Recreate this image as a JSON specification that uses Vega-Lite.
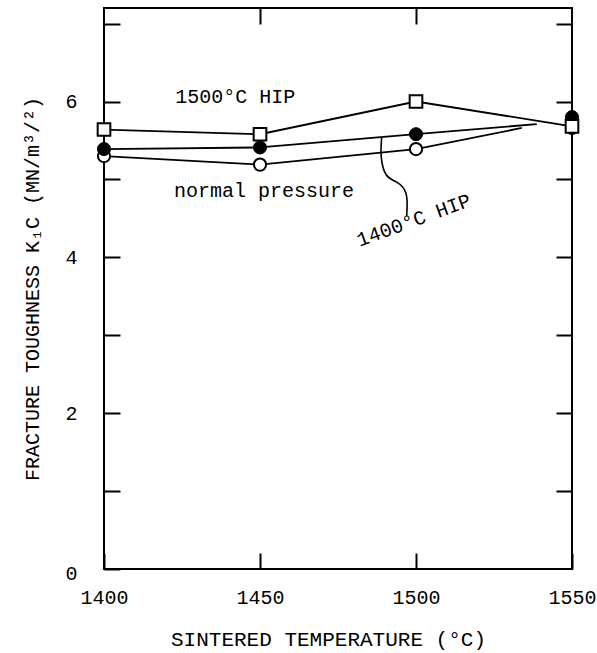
{
  "$schema": "https://vega.github.io/schema/vega-lite/v6.json",
  "width": 468,
  "height": 561,
  "autosize": "none",
  "padding": {"left": 104, "top": 8, "right": 25, "bottom": 84},
  "background": "white",
  "config": {
    "view": {"stroke": "black", "strokeWidth": 2},
    "font": "Liberation Mono",
    "axis": {"domain": false, "grid": false, "tickColor": "black", "tickWidth": 2, "labelColor": "black", "titleColor": "black", "labelFont": "Liberation Mono", "titleFont": "Liberation Mono", "titleFontWeight": "normal", "labelFontWeight": "normal", "labelFlush": false}
  },
  "datasets": {
    "lines": [
      {"series": "1500°C HIP", "temp": 1400, "k": 5.64},
      {"series": "1500°C HIP", "temp": 1450, "k": 5.58},
      {"series": "1500°C HIP", "temp": 1500, "k": 6.0},
      {"series": "1500°C HIP", "temp": 1550, "k": 5.68},
      {"series": "1400°C HIP", "temp": 1400, "k": 5.39},
      {"series": "1400°C HIP", "temp": 1450, "k": 5.41},
      {"series": "1400°C HIP", "temp": 1500, "k": 5.58},
      {"series": "1400°C HIP", "temp": 1538.7, "k": 5.71},
      {"series": "normal pressure", "temp": 1400, "k": 5.30},
      {"series": "normal pressure", "temp": 1450, "k": 5.19},
      {"series": "normal pressure", "temp": 1500, "k": 5.39},
      {"series": "normal pressure", "temp": 1533.9, "k": 5.66}
    ],
    "points": [
      {"series": "normal pressure", "temp": 1400, "k": 5.30},
      {"series": "normal pressure", "temp": 1450, "k": 5.19},
      {"series": "normal pressure", "temp": 1500, "k": 5.39},
      {"series": "normal pressure", "temp": 1550, "k": 5.66},
      {"series": "1400°C HIP", "temp": 1400, "k": 5.39},
      {"series": "1400°C HIP", "temp": 1450, "k": 5.41},
      {"series": "1400°C HIP", "temp": 1500, "k": 5.58},
      {"series": "1400°C HIP", "temp": 1550, "k": 5.80},
      {"series": "1500°C HIP", "temp": 1400, "k": 5.64},
      {"series": "1500°C HIP", "temp": 1450, "k": 5.58},
      {"series": "1500°C HIP", "temp": 1500, "k": 6.0},
      {"series": "1500°C HIP", "temp": 1550, "k": 5.68}
    ],
    "leader": [
      {"i": 1, "temp": 1489.0, "k": 5.54},
      {"i": 2, "temp": 1488.5, "k": 5.30},
      {"i": 3, "temp": 1490.1, "k": 5.02},
      {"i": 4, "temp": 1493.8, "k": 4.98},
      {"i": 5, "temp": 1497.5, "k": 4.85},
      {"i": 6, "temp": 1497.0, "k": 4.53}
    ],
    "notes": [
      {"temp": 1422.8, "k": 5.975, "text": "1500°C HIP"},
      {"temp": 1422.4, "k": 4.77, "text": "normal pressure"}
    ],
    "rotnotes": [
      {"temp": 1500.0, "k": 4.40, "text": "1400°C HIP"}
    ]
  },
  "resolve": {"axis": {"x": "independent", "y": "independent"}},
  "layer": [
    {
      "data": {"name": "lines"},
      "mark": {"type": "line", "color": "black", "strokeWidth": 1.8},
      "encoding": {
        "x": {"field": "temp", "type": "quantitative", "scale": {"domain": [1400, 1550], "nice": false, "zero": false},
              "axis": {"orient": "bottom", "values": [1400, 1450, 1500, 1550], "tickSize": -16, "labelPadding": 34, "labelFontSize": 20, "format": "d",
                       "title": "SINTERED TEMPERATURE (°C)", "titleFontSize": 21, "titlePadding": 21, "titleX": 224}},
        "y": {"field": "k", "type": "quantitative", "scale": {"domain": [0, 7.2], "nice": false},
              "axis": {"orient": "left", "values": [0, 1, 2, 3, 4, 5, 6, 7], "tickSize": -16, "labelPadding": 43, "labelFontSize": 20,
                       "labelExpr": "datum.value % 2 == 0 ? datum.label : ''",
                       "labelOffset": {"condition": {"test": "datum.value == 0", "value": 4}, "value": 0},
                       "title": "FRACTURE TOUGHNESS K₁C (MN/m³/²)", "titleFontSize": 20, "titlePadding": 22}},
        "detail": {"field": "series"}
      }
    },
    {
      "data": {"name": "points"},
      "transform": [{"filter": "datum.series == 'normal pressure'"}],
      "mark": {"type": "point", "shape": "circle", "filled": true, "fill": "white", "stroke": "black", "strokeWidth": 2, "size": 150, "opacity": 1},
      "encoding": {
        "x": {"field": "temp", "type": "quantitative", "axis": null},
        "y": {"field": "k", "type": "quantitative", "axis": null}
      }
    },
    {
      "data": {"name": "points"},
      "transform": [{"filter": "datum.series == '1400°C HIP'"}],
      "mark": {"type": "point", "shape": "circle", "filled": true, "fill": "black", "stroke": "black", "strokeWidth": 1, "size": 170, "opacity": 1},
      "encoding": {
        "x": {"field": "temp", "type": "quantitative", "axis": null},
        "y": {"field": "k", "type": "quantitative", "axis": null}
      }
    },
    {
      "data": {"name": "points"},
      "transform": [{"filter": "datum.series == '1500°C HIP'"}],
      "mark": {"type": "point", "shape": "square", "filled": true, "fill": "white", "stroke": "black", "strokeWidth": 2, "size": 160, "opacity": 1},
      "encoding": {
        "x": {"field": "temp", "type": "quantitative", "axis": null},
        "y": {"field": "k", "type": "quantitative", "axis": null}
      }
    },
    {
      "data": {"name": "leader"},
      "mark": {"type": "line", "color": "black", "strokeWidth": 1.6, "interpolate": "basis"},
      "encoding": {
        "x": {"field": "temp", "type": "quantitative", "axis": null},
        "y": {"field": "k", "type": "quantitative", "axis": null},
        "order": {"field": "i"}
      }
    },
    {
      "data": {"name": "notes"},
      "mark": {"type": "text", "align": "left", "baseline": "alphabetic", "fontSize": 20, "font": "Liberation Mono", "color": "black"},
      "encoding": {
        "x": {"field": "temp", "type": "quantitative", "axis": null},
        "y": {"field": "k", "type": "quantitative", "axis": null},
        "text": {"field": "text"}
      }
    },
    {
      "data": {"name": "rotnotes"},
      "mark": {"type": "text", "align": "center", "baseline": "alphabetic", "fontSize": 20, "font": "Liberation Mono", "color": "black", "angle": -20},
      "encoding": {
        "x": {"field": "temp", "type": "quantitative", "axis": null},
        "y": {"field": "k", "type": "quantitative", "axis": null},
        "text": {"field": "text"}
      }
    },
    {
      "data": {"name": "lines"},
      "mark": {"type": "point", "opacity": 0},
      "encoding": {
        "x": {"field": "temp", "type": "quantitative",
              "axis": {"orient": "top", "values": [1450, 1500], "tickSize": -16, "labels": false, "title": null}},
        "y": {"field": "k", "type": "quantitative",
              "axis": {"orient": "right", "values": [1, 2, 3, 4, 5, 6, 7], "tickSize": -16, "labels": false, "title": null}}
      }
    }
  ]
}
